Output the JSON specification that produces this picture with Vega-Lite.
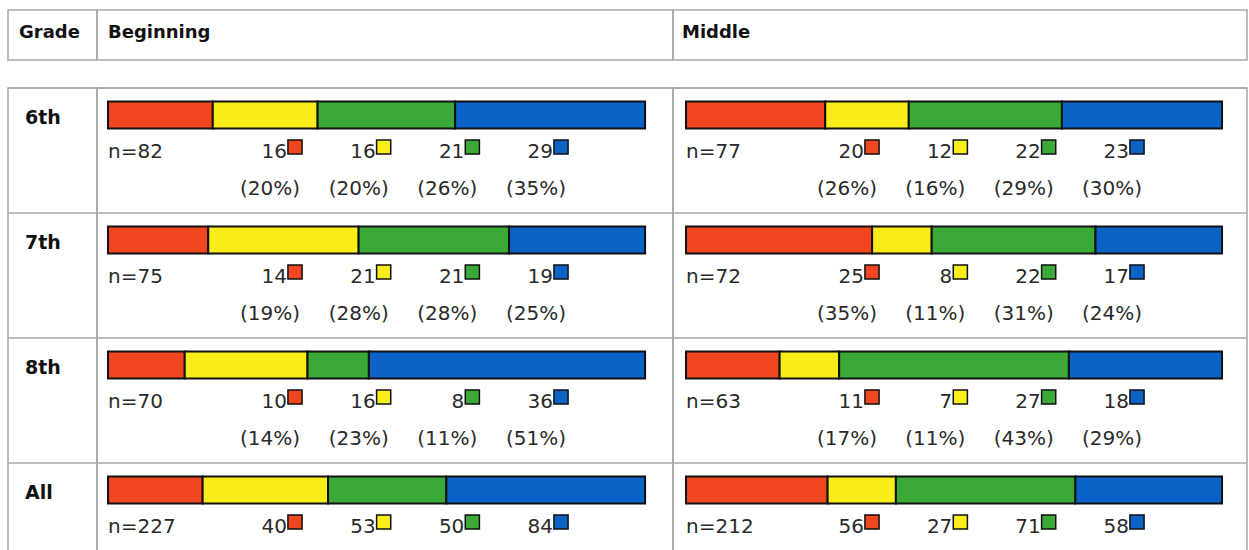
{
  "$schema": "https://vega.github.io/schema/vega-lite/v6.json",
  "padding": {"left": 6, "top": 9, "right": 0, "bottom": 0},
  "spacing": 25,
  "config": {
    "view": {"stroke": "#a8a8a8", "strokeWidth": 1.5},
    "concat": {"spacing": 0},
    "font": "DejaVu Sans"
  },
  "datasets": {
    "headers": [
      {"col": "Grade"},
      {"col": "Beginning"},
      {"col": "Middle"}
    ],
    "grades": [
      {"grade": "6th"},
      {"grade": "7th"},
      {"grade": "8th"},
      {"grade": "All"}
    ],
    "totals": [
      {"level": "Beginning", "grade": "6th", "n": 82},
      {"level": "Beginning", "grade": "7th", "n": 75},
      {"level": "Beginning", "grade": "8th", "n": 70},
      {"level": "Beginning", "grade": "All", "n": 227},
      {"level": "Middle", "grade": "6th", "n": 77},
      {"level": "Middle", "grade": "7th", "n": 72},
      {"level": "Middle", "grade": "8th", "n": 63},
      {"level": "Middle", "grade": "All", "n": 212}
    ],
    "seg": [
      {"level": "Beginning", "grade": "6th", "cat": "Red", "count": 16, "pct": 20},
      {"level": "Beginning", "grade": "6th", "cat": "Yellow", "count": 16, "pct": 20},
      {"level": "Beginning", "grade": "6th", "cat": "Green", "count": 21, "pct": 26},
      {"level": "Beginning", "grade": "6th", "cat": "Blue", "count": 29, "pct": 35},
      {"level": "Beginning", "grade": "7th", "cat": "Red", "count": 14, "pct": 19},
      {"level": "Beginning", "grade": "7th", "cat": "Yellow", "count": 21, "pct": 28},
      {"level": "Beginning", "grade": "7th", "cat": "Green", "count": 21, "pct": 28},
      {"level": "Beginning", "grade": "7th", "cat": "Blue", "count": 19, "pct": 25},
      {"level": "Beginning", "grade": "8th", "cat": "Red", "count": 10, "pct": 14},
      {"level": "Beginning", "grade": "8th", "cat": "Yellow", "count": 16, "pct": 23},
      {"level": "Beginning", "grade": "8th", "cat": "Green", "count": 8, "pct": 11},
      {"level": "Beginning", "grade": "8th", "cat": "Blue", "count": 36, "pct": 51},
      {"level": "Beginning", "grade": "All", "cat": "Red", "count": 40, "pct": null},
      {"level": "Beginning", "grade": "All", "cat": "Yellow", "count": 53, "pct": null},
      {"level": "Beginning", "grade": "All", "cat": "Green", "count": 50, "pct": null},
      {"level": "Beginning", "grade": "All", "cat": "Blue", "count": 84, "pct": null},
      {"level": "Middle", "grade": "6th", "cat": "Red", "count": 20, "pct": 26},
      {"level": "Middle", "grade": "6th", "cat": "Yellow", "count": 12, "pct": 16},
      {"level": "Middle", "grade": "6th", "cat": "Green", "count": 22, "pct": 29},
      {"level": "Middle", "grade": "6th", "cat": "Blue", "count": 23, "pct": 30},
      {"level": "Middle", "grade": "7th", "cat": "Red", "count": 25, "pct": 35},
      {"level": "Middle", "grade": "7th", "cat": "Yellow", "count": 8, "pct": 11},
      {"level": "Middle", "grade": "7th", "cat": "Green", "count": 22, "pct": 31},
      {"level": "Middle", "grade": "7th", "cat": "Blue", "count": 17, "pct": 24},
      {"level": "Middle", "grade": "8th", "cat": "Red", "count": 11, "pct": 17},
      {"level": "Middle", "grade": "8th", "cat": "Yellow", "count": 7, "pct": 11},
      {"level": "Middle", "grade": "8th", "cat": "Green", "count": 27, "pct": 43},
      {"level": "Middle", "grade": "8th", "cat": "Blue", "count": 18, "pct": 29},
      {"level": "Middle", "grade": "All", "cat": "Red", "count": 56, "pct": null},
      {"level": "Middle", "grade": "All", "cat": "Yellow", "count": 27, "pct": null},
      {"level": "Middle", "grade": "All", "cat": "Green", "count": 71, "pct": null},
      {"level": "Middle", "grade": "All", "cat": "Blue", "count": 58, "pct": null}
    ]
  },
  "vconcat": [
    {
      "spacing": 0,
      "bounds": "flush",
      "hconcat": [
        {
          "width": 89, "height": 50,
          "data": {"name": "headers"},
          "transform": [{"filter": "datum.col === 'Grade'"}],
          "mark": {"type": "text", "align": "left", "baseline": "middle", "dx": 11, "dy": -2, "fontSize": 18, "fontWeight": "bold", "color": "#111"},
          "encoding": {
            "x": {"datum": 0, "type": "quantitative", "scale": {"domain": [0, 1]}, "axis": null},
            "text": {"field": "col"}
          }
        },
        {
          "width": 576, "height": 50,
          "data": {"name": "headers"},
          "transform": [{"filter": "datum.col === 'Beginning'"}],
          "mark": {"type": "text", "align": "left", "baseline": "middle", "dx": 11, "dy": -2, "fontSize": 18, "fontWeight": "bold", "color": "#111"},
          "encoding": {
            "x": {"datum": 0, "type": "quantitative", "scale": {"domain": [0, 1]}, "axis": null},
            "text": {"field": "col"}
          }
        },
        {
          "width": 574, "height": 50,
          "data": {"name": "headers"},
          "transform": [{"filter": "datum.col === 'Middle'"}],
          "mark": {"type": "text", "align": "left", "baseline": "middle", "dx": 9, "dy": -2, "fontSize": 18, "fontWeight": "bold", "color": "#111"},
          "encoding": {
            "x": {"datum": 0, "type": "quantitative", "scale": {"domain": [0, 1]}, "axis": null},
            "text": {"field": "col"}
          }
        }
      ]
    },
    {
      "spacing": 0,
      "bounds": "flush",
      "hconcat": [
        {
          "width": 89, "height": 464,
          "data": {"name": "grades"},
          "layer": [
            {
              "mark": {"type": "rule", "color": "#a8a8a8", "strokeWidth": 1.5},
              "encoding": {
                "y": {"field": "grade", "type": "nominal", "bandPosition": 0, "scale": {"domain": ["6th", "7th", "8th", "All"], "range": [0, 500], "paddingInner": 0, "paddingOuter": 0}, "axis": null}
              }
            },
            {
              "mark": {"type": "text", "align": "left", "baseline": "middle", "dx": 17, "dy": 3, "fontSize": 19, "fontWeight": "bold", "color": "#111"},
              "encoding": {
                "x": {"datum": 0, "type": "quantitative", "scale": {"domain": [0, 1]}, "axis": null},
                "y": {"field": "grade", "type": "nominal", "scale": {"domain": ["6th", "7th", "8th", "All"], "range": [0, 500], "paddingInner": 0, "paddingOuter": 0}, "axis": null},
                "yOffset": {"datum": "bar", "type": "nominal", "scale": {"domain": ["bar", "count", "pct"], "paddingInner": 0.156, "paddingOuter": 0.531, "align": 0.397}},
                "text": {"field": "grade"}
              }
            }
          ]
        },
        {
          "width": 576, "height": 464,
          "resolve": {"scale": {"x": "independent"}},
          "layer": [
            {
              "data": {"name": "grades"},
              "mark": {"type": "rule", "color": "#a8a8a8", "strokeWidth": 1.5},
              "encoding": {
                "y": {"field": "grade", "type": "nominal", "bandPosition": 0, "scale": {"domain": ["6th", "7th", "8th", "All"], "range": [0, 500], "paddingInner": 0, "paddingOuter": 0}, "axis": null}
              }
            },
            {
              "data": {"name": "seg"},
              "transform": [{"filter": "datum.level === 'Beginning'"}, {"calculate": "indexof(['Red', 'Yellow', 'Green', 'Blue'], datum.cat)", "as": "rank"}],
              "mark": {"type": "bar", "stroke": "#111", "strokeWidth": 2},
              "encoding": {
                "y": {"field": "grade", "type": "nominal", "scale": {"domain": ["6th", "7th", "8th", "All"], "range": [0, 500], "paddingInner": 0, "paddingOuter": 0}, "axis": null},
                "yOffset": {"datum": "bar", "type": "nominal", "scale": {"domain": ["bar", "count", "pct"], "paddingInner": 0.156, "paddingOuter": 0.531, "align": 0.397}},
                "x": {"field": "count", "type": "quantitative", "stack": "normalize", "scale": {"domain": [-0.0205, 1.052]}, "axis": null},
                "order": {"field": "rank", "type": "quantitative"},
                "color": {"field": "cat", "type": "nominal", "scale": {"domain": ["Red", "Yellow", "Green", "Blue"], "range": ["#f24620", "#f8ec1a", "#3ba936", "#0b63c8"]}, "legend": null}
              }
            },
            {
              "data": {"name": "totals"},
              "transform": [{"filter": "datum.level === 'Beginning'"}, {"calculate": "'n=' + datum.n", "as": "nlabel"}],
              "mark": {"type": "text", "align": "left", "baseline": "middle", "dy": 5, "fontSize": 20, "color": "#2a2a2a"},
              "encoding": {
                "x": {"datum": 0, "type": "quantitative", "scale": {"domain": [-0.0205, 1.052]}, "axis": null},
                "y": {"field": "grade", "type": "nominal", "scale": {"domain": ["6th", "7th", "8th", "All"], "range": [0, 500], "paddingInner": 0, "paddingOuter": 0}, "axis": null},
                "yOffset": {"datum": "count", "type": "nominal", "scale": {"domain": ["bar", "count", "pct"], "paddingInner": 0.156, "paddingOuter": 0.531, "align": 0.397}},
                "text": {"field": "nlabel"}
              }
            },
            {
              "data": {"name": "seg"},
              "transform": [{"filter": "datum.level === 'Beginning'"}],
              "mark": {"type": "text", "align": "right", "baseline": "middle", "dx": -8, "dy": 5, "fontSize": 20, "color": "#2a2a2a"},
              "encoding": {
                "x": {"field": "cat", "type": "ordinal", "scale": {"type": "point", "domain": ["Red", "Yellow", "Green", "Blue"], "range": [198, 464], "padding": 0}, "axis": null},
                "y": {"field": "grade", "type": "nominal", "scale": {"domain": ["6th", "7th", "8th", "All"], "range": [0, 500], "paddingInner": 0, "paddingOuter": 0}, "axis": null},
                "yOffset": {"datum": "count", "type": "nominal", "scale": {"domain": ["bar", "count", "pct"], "paddingInner": 0.156, "paddingOuter": 0.531, "align": 0.397}},
                "text": {"field": "count", "type": "quantitative"}
              }
            },
            {
              "data": {"name": "seg"},
              "transform": [{"filter": "datum.level === 'Beginning'"}],
              "mark": {"type": "point", "shape": "square", "filled": true, "size": 200, "stroke": "#111", "strokeWidth": 1.5, "opacity": 1},
              "encoding": {
                "x": {"field": "cat", "type": "ordinal", "scale": {"type": "point", "domain": ["Red", "Yellow", "Green", "Blue"], "range": [198, 464], "padding": 0}, "axis": null},
                "y": {"field": "grade", "type": "nominal", "scale": {"domain": ["6th", "7th", "8th", "All"], "range": [0, 500], "paddingInner": 0, "paddingOuter": 0}, "axis": null},
                "yOffset": {"datum": "count", "type": "nominal", "scale": {"domain": ["bar", "count", "pct"], "paddingInner": 0.156, "paddingOuter": 0.531, "align": 0.397}},
                "fill": {"field": "cat", "type": "nominal", "scale": {"domain": ["Red", "Yellow", "Green", "Blue"], "range": ["#f24620", "#f8ec1a", "#3ba936", "#0b63c8"]}, "legend": null}
              }
            },
            {
              "data": {"name": "seg"},
              "transform": [{"filter": "datum.level === 'Beginning' && datum.pct != null"}, {"calculate": "'(' + datum.pct + '%)'", "as": "plabel"}],
              "mark": {"type": "text", "align": "center", "baseline": "middle", "dx": -25, "dy": 10, "fontSize": 20, "color": "#2a2a2a"},
              "encoding": {
                "x": {"field": "cat", "type": "ordinal", "scale": {"type": "point", "domain": ["Red", "Yellow", "Green", "Blue"], "range": [198, 464], "padding": 0}, "axis": null},
                "y": {"field": "grade", "type": "nominal", "scale": {"domain": ["6th", "7th", "8th", "All"], "range": [0, 500], "paddingInner": 0, "paddingOuter": 0}, "axis": null},
                "yOffset": {"datum": "pct", "type": "nominal", "scale": {"domain": ["bar", "count", "pct"], "paddingInner": 0.156, "paddingOuter": 0.531, "align": 0.397}},
                "text": {"field": "plabel"}
              }
            }
          ]
        },
        {
          "width": 574, "height": 464,
          "resolve": {"scale": {"x": "independent"}},
          "layer": [
            {
              "data": {"name": "grades"},
              "mark": {"type": "rule", "color": "#a8a8a8", "strokeWidth": 1.5},
              "encoding": {
                "y": {"field": "grade", "type": "nominal", "bandPosition": 0, "scale": {"domain": ["6th", "7th", "8th", "All"], "range": [0, 500], "paddingInner": 0, "paddingOuter": 0}, "axis": null}
              }
            },
            {
              "data": {"name": "seg"},
              "transform": [{"filter": "datum.level === 'Middle'"}, {"calculate": "indexof(['Red', 'Yellow', 'Green', 'Blue'], datum.cat)", "as": "rank"}],
              "mark": {"type": "bar", "stroke": "#111", "strokeWidth": 2},
              "encoding": {
                "y": {"field": "grade", "type": "nominal", "scale": {"domain": ["6th", "7th", "8th", "All"], "range": [0, 500], "paddingInner": 0, "paddingOuter": 0}, "axis": null},
                "yOffset": {"datum": "bar", "type": "nominal", "scale": {"domain": ["bar", "count", "pct"], "paddingInner": 0.156, "paddingOuter": 0.531, "align": 0.397}},
                "x": {"field": "count", "type": "quantitative", "stack": "normalize", "scale": {"domain": [-0.0243, 1.0466]}, "axis": null},
                "order": {"field": "rank", "type": "quantitative"},
                "color": {"field": "cat", "type": "nominal", "scale": {"domain": ["Red", "Yellow", "Green", "Blue"], "range": ["#f24620", "#f8ec1a", "#3ba936", "#0b63c8"]}, "legend": null}
              }
            },
            {
              "data": {"name": "totals"},
              "transform": [{"filter": "datum.level === 'Middle'"}, {"calculate": "'n=' + datum.n", "as": "nlabel"}],
              "mark": {"type": "text", "align": "left", "baseline": "middle", "dy": 5, "fontSize": 20, "color": "#2a2a2a"},
              "encoding": {
                "x": {"datum": 0, "type": "quantitative", "scale": {"domain": [-0.0243, 1.0466]}, "axis": null},
                "y": {"field": "grade", "type": "nominal", "scale": {"domain": ["6th", "7th", "8th", "All"], "range": [0, 500], "paddingInner": 0, "paddingOuter": 0}, "axis": null},
                "yOffset": {"datum": "count", "type": "nominal", "scale": {"domain": ["bar", "count", "pct"], "paddingInner": 0.156, "paddingOuter": 0.531, "align": 0.397}},
                "text": {"field": "nlabel"}
              }
            },
            {
              "data": {"name": "seg"},
              "transform": [{"filter": "datum.level === 'Middle'"}],
              "mark": {"type": "text", "align": "right", "baseline": "middle", "dx": -8, "dy": 5, "fontSize": 20, "color": "#2a2a2a"},
              "encoding": {
                "x": {"field": "cat", "type": "ordinal", "scale": {"type": "point", "domain": ["Red", "Yellow", "Green", "Blue"], "range": [199, 464], "padding": 0}, "axis": null},
                "y": {"field": "grade", "type": "nominal", "scale": {"domain": ["6th", "7th", "8th", "All"], "range": [0, 500], "paddingInner": 0, "paddingOuter": 0}, "axis": null},
                "yOffset": {"datum": "count", "type": "nominal", "scale": {"domain": ["bar", "count", "pct"], "paddingInner": 0.156, "paddingOuter": 0.531, "align": 0.397}},
                "text": {"field": "count", "type": "quantitative"}
              }
            },
            {
              "data": {"name": "seg"},
              "transform": [{"filter": "datum.level === 'Middle'"}],
              "mark": {"type": "point", "shape": "square", "filled": true, "size": 200, "stroke": "#111", "strokeWidth": 1.5, "opacity": 1},
              "encoding": {
                "x": {"field": "cat", "type": "ordinal", "scale": {"type": "point", "domain": ["Red", "Yellow", "Green", "Blue"], "range": [199, 464], "padding": 0}, "axis": null},
                "y": {"field": "grade", "type": "nominal", "scale": {"domain": ["6th", "7th", "8th", "All"], "range": [0, 500], "paddingInner": 0, "paddingOuter": 0}, "axis": null},
                "yOffset": {"datum": "count", "type": "nominal", "scale": {"domain": ["bar", "count", "pct"], "paddingInner": 0.156, "paddingOuter": 0.531, "align": 0.397}},
                "fill": {"field": "cat", "type": "nominal", "scale": {"domain": ["Red", "Yellow", "Green", "Blue"], "range": ["#f24620", "#f8ec1a", "#3ba936", "#0b63c8"]}, "legend": null}
              }
            },
            {
              "data": {"name": "seg"},
              "transform": [{"filter": "datum.level === 'Middle' && datum.pct != null"}, {"calculate": "'(' + datum.pct + '%)'", "as": "plabel"}],
              "mark": {"type": "text", "align": "center", "baseline": "middle", "dx": -25, "dy": 10, "fontSize": 20, "color": "#2a2a2a"},
              "encoding": {
                "x": {"field": "cat", "type": "ordinal", "scale": {"type": "point", "domain": ["Red", "Yellow", "Green", "Blue"], "range": [199, 464], "padding": 0}, "axis": null},
                "y": {"field": "grade", "type": "nominal", "scale": {"domain": ["6th", "7th", "8th", "All"], "range": [0, 500], "paddingInner": 0, "paddingOuter": 0}, "axis": null},
                "yOffset": {"datum": "pct", "type": "nominal", "scale": {"domain": ["bar", "count", "pct"], "paddingInner": 0.156, "paddingOuter": 0.531, "align": 0.397}},
                "text": {"field": "plabel"}
              }
            }
          ]
        }
      ]
    }
  ]
}
